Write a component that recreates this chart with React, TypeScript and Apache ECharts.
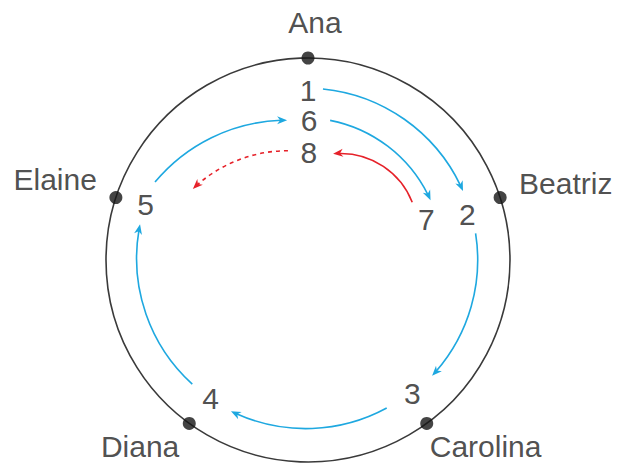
import React, { useEffect, useRef } from "react";
import * as echarts from "echarts";

// People around the circle (polar: radius in % of circle, angle in degrees clockwise from top)
const names = ["Ana", "Beatriz", "Carolina", "Diana", "Elaine"];
const nameAngles = [0, 72, 144, 216, 288];
const nameRadius = 100;

// Pass order labels
const steps = ["1", "2", "3", "4", "5", "6", "7", "8"];
const stepRadii = [84, 82, 84, 84, 85, 69, 62, 53];
const stepAngles = [0, 74, 142, 215, 289, 0.5, 71, 0.5];

// Arrows: [fromRadius, fromAngle, toRadius, toAngle, bendRadius, clockwise(1)/counter(0)]
const passArrows = [
  [85, 5, 84, 66, 85, 1],
  [84, 81, 84, 133, 84, 1],
  [83, 152, 84, 207, 84, 1],
  [84, 223, 85, 282, 84, 1],
  [85, 297, 70, 351.5, 85, 1],
  [70, 9, 67.5, 64, 69, 1],
];
const returnArrows = [[59, 61, 54, 13.3, 38, 0]];
const nextArrows = [[55, 349.6, 67, 301.7, 68, 0]];

const RADIUS_MAX = 100;
const FONT = "'Liberation Sans', Arial, Helvetica, sans-serif";
const TEXT_COLOR = "#222222";
const BLUE = "#1ea8e0";
const RED = "#e62129";

const namePlacement: Record<string, { align: string; offset: number[] }> = {
  Ana: { align: "center", offset: [7, -36] },
  Beatriz: { align: "left", offset: [19, -14] },
  Carolina: { align: "left", offset: [3, 23] },
  Diana: { align: "right", offset: [-10, 23] },
  Elaine: { align: "right", offset: [-19, -18] },
};

function makeArrowRenderer(color: string, dashed: boolean) {
  return (params: any, api: any) => {
    const cs = params.coordSys;
    const k = cs.r / RADIUS_MAX;
    const p0 = api.coord([api.value(0), api.value(1)]);
    const p1 = api.coord([api.value(2), api.value(3)]);
    const R = api.value(4) * k;
    const cw = api.value(5) === 1;
    const s = cw ? 1 : -1;
    const dx = p1[0] - p0[0];
    const dy = p1[1] - p0[1];
    const chord = Math.hypot(dx, dy);
    const half = chord / 2;
    const h = Math.sqrt(Math.max(R * R - half * half, 0));
    const nx = -dy / chord;
    const ny = dx / chord;
    const cx = (p0[0] + p1[0]) / 2 + s * h * nx;
    const cy = (p0[1] + p1[1]) / 2 + s * h * ny;
    const r = Math.hypot(p0[0] - cx, p0[1] - cy);
    const a0 = Math.atan2(p0[1] - cy, p0[0] - cx);
    const a1 = Math.atan2(p1[1] - cy, p1[0] - cx);
    const headLen = 10;
    const headHalf = 4;
    let aEnd = a1 - (s * (headLen * 0.6)) / r;
    if (cw) {
      while (aEnd < a0) aEnd += Math.PI * 2;
    } else {
      while (aEnd > a0) aEnd -= Math.PI * 2;
    }
    const tx = (s * -(p1[1] - cy)) / r;
    const ty = (s * (p1[0] - cx)) / r;
    const px = -ty;
    const py = tx;
    const bx = p1[0] - headLen * tx;
    const by = p1[1] - headLen * ty;
    const points = [
      [p1[0], p1[1]],
      [bx + headHalf * px, by + headHalf * py],
      [p1[0] - 0.7 * headLen * tx, p1[1] - 0.7 * headLen * ty],
      [bx - headHalf * px, by - headHalf * py],
    ];
    return {
      type: "group",
      children: [
        {
          type: "arc",
          shape: { cx, cy, r, startAngle: a0, endAngle: aEnd, clockwise: cw },
          style: {
            stroke: color,
            fill: null,
            lineWidth: 1.6,
            lineDash: dashed ? [4, 4] : null,
          },
        },
        {
          type: "polygon",
          shape: { points },
          style: { fill: color },
        },
      ],
    };
  };
}

export default function App() {
  const ref = useRef<HTMLDivElement>(null);

  useEffect(() => {
    if (!ref.current) return;
    const chart = echarts.init(ref.current, null, { renderer: "svg" });

    const nameData = names.map((n, i) => ({
      name: n,
      value: [nameRadius, nameAngles[i]],
      label: {
        align: namePlacement[n].align,
        offset: namePlacement[n].offset,
      },
    }));

    const stepData = steps.map((n, i) => ({
      name: n,
      value: [stepRadii[i], stepAngles[i]],
    }));

    const option: any = {
      animation: false,
      backgroundColor: "#ffffff",
      polar: { center: [308, 260], radius: 202 },
      angleAxis: {
        type: "value",
        min: 0,
        max: 360,
        startAngle: 90,
        clockwise: true,
        axisLine: { show: true, lineStyle: { color: "#3a3a3a", width: 1.6 } },
        axisTick: { show: false },
        axisLabel: { show: false },
        splitLine: { show: false },
      },
      radiusAxis: {
        type: "value",
        min: 0,
        max: RADIUS_MAX,
        axisLine: { show: false },
        axisTick: { show: false },
        axisLabel: { show: false },
        splitLine: { show: false },
        splitArea: { show: false },
      },
      series: [
        {
          type: "custom",
          name: "passes",
          coordinateSystem: "polar",
          renderItem: makeArrowRenderer(BLUE, false),
          data: passArrows,
          z: 3,
        },
        {
          type: "custom",
          name: "return",
          coordinateSystem: "polar",
          renderItem: makeArrowRenderer(RED, false),
          data: returnArrows,
          z: 3,
        },
        {
          type: "custom",
          name: "next",
          coordinateSystem: "polar",
          renderItem: makeArrowRenderer(RED, true),
          data: nextArrows,
          z: 3,
        },
        {
          type: "scatter",
          name: "people",
          coordinateSystem: "polar",
          symbol: "circle",
          symbolSize: 13,
          itemStyle: { color: "#151515" },
          data: nameData,
          z: 5,
          label: {
            show: true,
            position: "inside",
            formatter: "{b}",
            fontFamily: FONT,
            fontSize: 30,
            lineHeight: 26,
            color: TEXT_COLOR,
            verticalAlign: "middle",
          },
        },
        {
          type: "scatter",
          name: "steps",
          coordinateSystem: "polar",
          symbol: "circle",
          symbolSize: 1,
          itemStyle: { color: "rgba(0,0,0,0)" },
          data: stepData,
          z: 4,
          label: {
            show: true,
            position: "inside",
            formatter: "{b}",
            fontFamily: FONT,
            fontSize: 30,
            lineHeight: 26,
            color: TEXT_COLOR,
            align: "center",
            verticalAlign: "middle",
          },
        },
      ],
    };

    chart.setOption(option);
    return () => chart.dispose();
  }, []);

  return (
    <div
      ref={ref}
      style={{
        position: "fixed",
        left: 0,
        top: 0,
        width: 625,
        height: 463,
        background: "#ffffff",
      }}
    />
  );
}
